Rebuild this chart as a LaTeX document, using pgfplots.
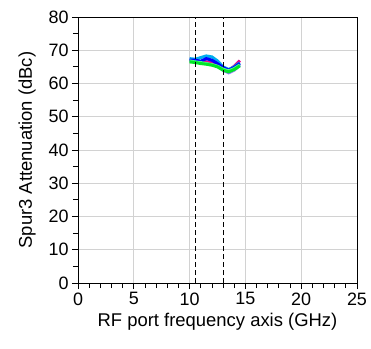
\documentclass[border=0pt]{standalone}
\usepackage{pgfplots}
\pgfplotsset{compat=1.18}
\usepackage{fontspec}
\setmainfont{Liberation Sans}
\begin{document}
\begin{tikzpicture}
\begin{axis}[
  scale only axis, width=279bp, height=266bp,
  xmin=0, xmax=25, ymin=0, ymax=80,
  xtick={0,5,...,25}, ytick={0,10,...,80},
  minor x tick num=4, minor y tick num=1,
  tick align=outside, tick pos=left,
  major tick length=6bp, minor tick length=5bp,
  grid=major, major grid style={gray!35, line width=0.8pt},
  axis line style={line width=0.8pt},
  tick style={black, line width=0.8pt},
  every tick label/.append style={font=\fontsize{18}{20}\selectfont},
  label style={font=\fontsize{18.5}{21}\selectfont},
  /pgf/number format/assume math mode=true,
  xticklabel style={yshift=0bp},
  xlabel={RF port frequency axis (GHz)},
  ylabel={Spur3 Attenuation (dBc)},
  xlabel style={yshift=-1bp},
  ylabel style={yshift=6bp},
  every axis plot/.append style={line width=3pt, no marks},
]
\addplot[color={rgb,255:red,150;green,120;blue,255}] coordinates {(10,67.2)(10.5,67)(11,66.6)(11.5,66.5)(12,66.3)(12.5,65.5)(13,64)(13.5,63.2)(14,64)(14.5,65.5)};
\addplot[color=magenta] coordinates {(10,66.8)(10.5,66.7)(11,66.5)(11.5,66.5)(12,66.2)(12.5,65.5)(13,64.5)(13.5,64)(14,65.2)(14.5,66.9)};
\addplot[color=cyan] coordinates {(10,67.5)(10.5,67.3)(11,67.8)(11.5,68.3)(12,68)(12.5,66.8)(13,65)(13.5,64.2)(14,65)(14.5,66.2)};
\addplot[color=blue] coordinates {(10,67)(10.5,67)(11,66.7)(11.5,67.5)(12,67)(12.5,66)(13,64.8)(13.5,64)(14,64.8)(14.5,66)};
\addplot[color={rgb,255:red,80;green,255;blue,140}] coordinates {(10,66.8)(10.5,66.5)(11,66.3)(11.5,66)(12,65.7)(12.5,65.2)(13,64.3)(13.5,63.8)(14,64.5)(14.5,65.6)};
\addplot[color={rgb,255:red,0;green,230;blue,40}] coordinates {(10,66.5)(10.5,66.3)(11,66)(11.5,65.8)(12,65.5)(12.5,65)(13,64)(13.5,63.5)(14,64.2)(14.5,65.3)};
\addplot[black, dash pattern=on 5bp off 3bp, line width=1.1pt] coordinates {(10.5,0)(10.5,80)};
\addplot[black, dash pattern=on 5bp off 3bp, line width=1.1pt] coordinates {(13,0)(13,80)};
\end{axis}
\useasboundingbox (-78bp,-66bp) rectangle (293bp,283bp);
\end{tikzpicture}
\end{document}
